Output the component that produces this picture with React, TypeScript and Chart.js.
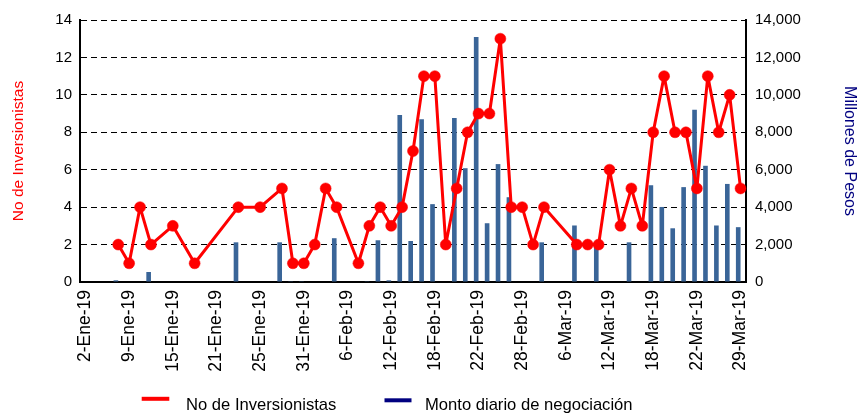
import React, { useEffect, useRef } from "react";
import { Chart, registerables } from "chart.js";

Chart.register(...registerables);

// Días hábiles (categorías)
const fechas: string[] = [
  "2-Ene-19", "3-Ene-19", "4-Ene-19", "8-Ene-19", "9-Ene-19", "10-Ene-19", "11-Ene-19",
  "14-Ene-19", "15-Ene-19", "16-Ene-19", "17-Ene-19", "18-Ene-19", "21-Ene-19", "22-Ene-19",
  "23-Ene-19", "24-Ene-19", "25-Ene-19", "28-Ene-19", "29-Ene-19", "30-Ene-19", "31-Ene-19",
  "1-Feb-19", "4-Feb-19", "5-Feb-19", "6-Feb-19", "7-Feb-19", "8-Feb-19", "11-Feb-19",
  "12-Feb-19", "13-Feb-19", "14-Feb-19", "15-Feb-19", "18-Feb-19", "19-Feb-19", "20-Feb-19",
  "21-Feb-19", "22-Feb-19", "25-Feb-19", "26-Feb-19", "27-Feb-19", "28-Feb-19",
  "1-Mar-19", "4-Mar-19", "5-Mar-19", "6-Mar-19", "7-Mar-19", "8-Mar-19", "11-Mar-19",
  "12-Mar-19", "13-Mar-19", "14-Mar-19", "15-Mar-19", "18-Mar-19", "19-Mar-19", "20-Mar-19",
  "21-Mar-19", "22-Mar-19", "26-Mar-19", "27-Mar-19", "28-Mar-19", "29-Mar-19",
];

// No de Inversionistas (eje izquierdo)
const inversionistas: (number | null)[] = [
  null, null, null, 2, 1, 4, 2, null, 3, null, 1, null, null, null, 4, null, 4, null, 5, 1, 1,
  2, 5, 4, null, 1, 3, 4, 3, 4, 7, 11, 11, 2, 5, 8, 9, 9, 13, 4, 4,
  2, 4, null, null, 2, 2, 2, 6, 3, 5, 3, 8, 11, 8, 8, 5, 11, 8, 10, 5,
];

// Monto diario de negociación (millones de pesos, eje derecho)
const montos: (number | null)[] = [
  null, null, null, 90, null, null, 535, null, null, null, null, null, null, null, 2120, null, null, null, 2120, 40, 40,
  null, null, 2340, null, null, 40, 2230, 90, 8920, 2190, 8700, 4160, null, 8760, 6080, 13090, 3140, 6300, 4530, null,
  null, 2120, null, null, 3020, null, 1900, null, null, 2120, null, 5170, 4010, 2870, 5070, 9200, 6210, 3020, 5240, 2930,
];

const serieInversionistas = "No de Inversionistas";
const serieMonto = "Monto diario de negociación";
const tituloIzq = "No de Inversionistas";
const tituloDer = "Millones de Pesos";

const FONT = "'Liberation Sans', Arial, sans-serif";
const RED = "#FF0000";
const BAR = "#3A6598";
const NAVY = "#000080";

const legendPlugin = {
  id: "legendaInferior",
  afterDraw(chart: any) {
    const ctx = chart.ctx as CanvasRenderingContext2D;
    const items = [
      { x0: 141.7, x1: 169.3, y: 398.8, tx: 186, color: RED, text: serieInversionistas },
      { x0: 384.5, x1: 411.5, y: 400.3, tx: 425, color: NAVY, text: serieMonto },
    ];
    ctx.save();
    ctx.font = `16.6px ${FONT}`;
    ctx.textBaseline = "alphabetic";
    ctx.textAlign = "left";
    for (const it of items) {
      ctx.strokeStyle = it.color;
      ctx.lineWidth = 4;
      ctx.beginPath();
      ctx.moveTo(it.x0, it.y);
      ctx.lineTo(it.x1, it.y);
      ctx.stroke();
      ctx.fillStyle = "#000";
      ctx.fillText(it.text, it.tx, 410.3);
    }
    ctx.restore();
  },
};

export default function App() {
  const ref = useRef<HTMLCanvasElement | null>(null);

  useEffect(() => {
    if (!ref.current) return;
    Chart.defaults.font.family = FONT;
    Chart.defaults.color = "#000";
    const chart = new Chart(ref.current, {
      type: "bar",
      data: {
        labels: fechas,
        datasets: [
          {
            type: "line",
            label: serieInversionistas,
            data: inversionistas,
            yAxisID: "y",
            borderColor: RED,
            backgroundColor: RED,
            borderWidth: 3,
            borderJoinStyle: "round",
            borderCapStyle: "round",
            pointRadius: 5.5,
            pointBackgroundColor: RED,
            pointBorderColor: RED,
            pointBorderWidth: 0.5,
            spanGaps: true,
            tension: 0,
            order: 0,
          } as any,
          {
            type: "bar",
            label: serieMonto,
            data: montos,
            yAxisID: "y1",
            backgroundColor: BAR,
            categoryPercentage: 0.85,
            barPercentage: 1,
            order: 1,
          } as any,
          {
            type: "bar",
            label: "",
            data: [],
            yAxisID: "y1",
            backgroundColor: BAR,
            categoryPercentage: 0.85,
            barPercentage: 1,
            order: 2,
          } as any,
        ],
      },
      options: {
        animation: false,
        responsive: false,
        devicePixelRatio: 1,
        layout: { padding: { top: 20, left: 0, right: 0, bottom: 0 } },
        plugins: {
          legend: { display: false },
          tooltip: { enabled: false },
        },
        scales: {
          x: {
            type: "category",
            offset: true,
            grid: { drawOnChartArea: false, drawTicks: false },
            border: { display: true, color: "#000", width: 2 },
            ticks: {
              autoSkip: false,
              maxRotation: 90,
              minRotation: 90,
              padding: 8,
              color: "#000",
              font: { size: 17.5 },
              callback: (_v: any, i: number) => (i % 4 === 0 ? fechas[i] : ""),
            },
            afterFit: (s: any) => {
              s.height = 132;
            },
          },
          y: {
            position: "left",
            min: 0,
            max: 14,
            ticks: { stepSize: 2, padding: 8, color: "#000", font: { size: 15 } },
            grid: { color: "#000", lineWidth: 1, drawTicks: false },
            border: { display: true, color: "#000", width: 2, dash: [6, 4] },
            title: {
              display: true,
              text: tituloIzq,
              color: RED,
              font: { size: 15.5, lineHeight: 1.2 },
              padding: { top: 9.2, bottom: 0 },
            },
            afterFit: (s: any) => {
              s.width = 80;
            },
          },
          y1: {
            position: "right",
            min: 0,
            max: 14000,
            ticks: {
              stepSize: 2000,
              padding: 9,
              color: "#000",
              font: { size: 15 },
              callback: (v: any) => Number(v).toLocaleString("en-US"),
            },
            grid: { drawOnChartArea: false, drawTicks: false },
            border: { display: true, color: "#000", width: 2 },
            title: {
              display: true,
              text: tituloDer,
              color: NAVY,
              font: { size: 16, lineHeight: 1 },
              padding: { top: 0, bottom: 0 },
            },
            afterFit: (s: any) => {
              s.width = 111;
            },
          },
        },
      } as any,
      plugins: [legendPlugin],
    });
    return () => chart.destroy();
  }, []);

  return (
    <div style={{ position: "fixed", left: 0, top: 0, width: 857, height: 414, background: "#fff" }}>
      <canvas ref={ref} width={857} height={414} style={{ display: "block", width: 857, height: 414 }} />
    </div>
  );
}
